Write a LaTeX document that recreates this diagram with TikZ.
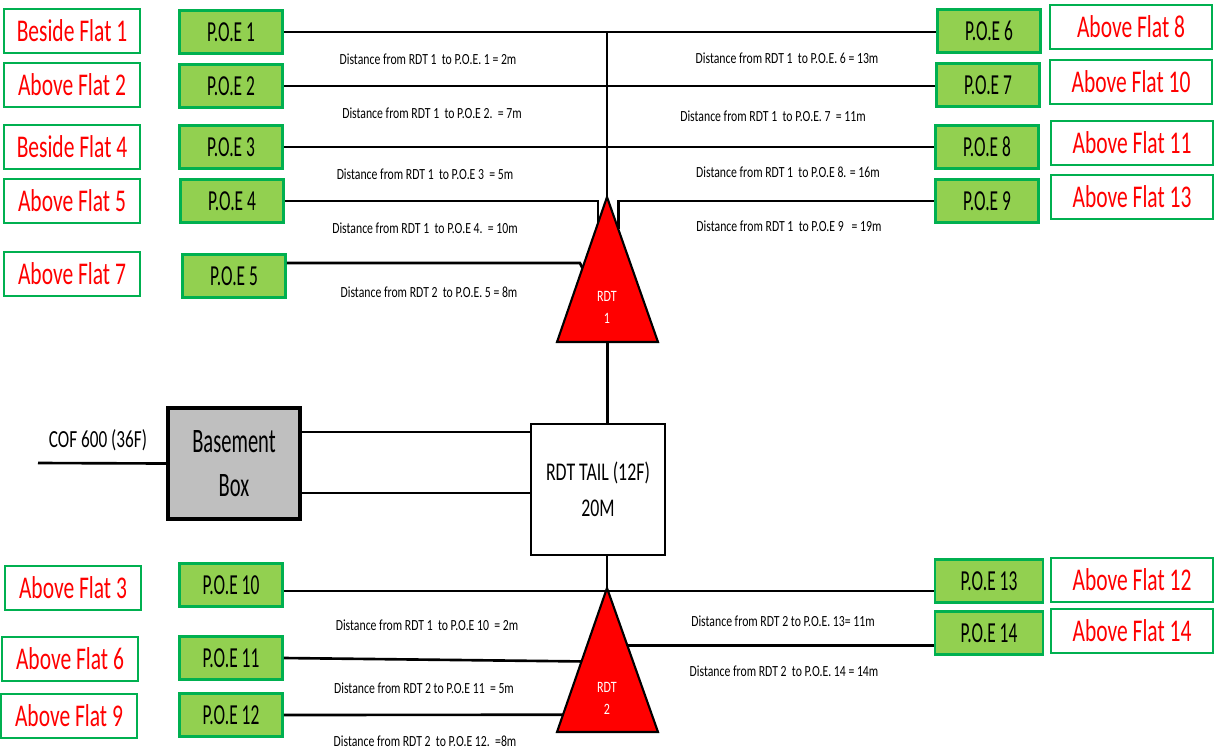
\documentclass[tikz,border=0pt]{standalone}
\usepackage{fontspec}
\setmainfont{Carlito}
\newfontfamily\flatfont[FakeStretch=0.68]{Carlito}
\newfontfamily\bigfont[FakeStretch=0.6]{Carlito}
\newfontfamily\midfont[FakeStretch=0.7]{Carlito}
\newfontfamily\smallfont[FakeStretch=0.76]{Carlito}
\usepackage{tikz}
\usetikzlibrary{calc}
\definecolor{flatgreen}{RGB}{0,176,80}
\definecolor{poegreen}{RGB}{146,208,80}
\definecolor{flatred}{RGB}{255,0,0}
\definecolor{boxgrey}{RGB}{191,191,191}
\tikzset{flat/.style={rectangle, draw=flatgreen, line width=1.6pt, fill=white, text=flatred, minimum width=2.72cm, minimum height=0.88cm, inner sep=0pt, font=\flatfont\fontsize{18}{20}\selectfont}, poe/.style={rectangle, draw=flatgreen, line width=1.6pt, fill=poegreen, minimum width=2.06cm, minimum height=0.86cm, inner sep=0pt, font=\bigfont\fontsize{16.5}{18}\selectfont}, cable/.style={line width=1.5pt, draw=black}, dist/.style={inner sep=0pt, font=\smallfont\fontsize{8.8}{10}\selectfont}, rdt/.style={draw=black, line width=1.2pt, fill=flatred}, rdtlbl/.style={text=white, align=center, inner sep=0pt, font=\smallfont\fontsize{9}{12.5}\selectfont}}

\begin{document}
\begin{tikzpicture}[x=0.02cm, y=-0.02cm]
\useasboundingbox (0,0) rectangle (1214,755);
\node[flat] (fl1) at (72,31) {Beside Flat 1};
\node[flat] (fl2) at (72,85) {Above Flat 2};
\node[flat] (fl4) at (72,147) {Beside Flat 4};
\node[flat] (fl5) at (72,201) {Above Flat 5};
\node[flat] (fl7) at (72,274) {Above Flat 7};
\node[flat] (fl3) at (73,588) {Above Flat 3};
\node[flat] (fl6) at (70,659) {Above Flat 6};
\node[flat] (fl9) at (69,716) {Above Flat 9};
\node[flat, minimum width=3.24cm] (fl8) at (1131,27) {Above Flat 8};
\node[flat, minimum width=3.24cm] (fl10) at (1131,82) {Above Flat 10};
\node[flat, minimum width=3.24cm] (fl11) at (1132,143) {Above Flat 11};
\node[flat, minimum width=3.24cm] (fl13) at (1132,197) {Above Flat 13};
\node[flat, minimum width=3.24cm] (fl12) at (1132,580) {Above Flat 12};
\node[flat, minimum width=3.24cm] (fl14) at (1132,631) {Above Flat 14};
\node[poe] (poe1) at (231,32) {P.O.E 1};
\node[poe] (poe2) at (231,86) {P.O.E 2};
\node[poe] (poe3) at (231,147) {P.O.E 3};
\node[poe] (poe4) at (232,201) {P.O.E 4};
\node[poe] (poe5) at (234,276) {P.O.E 5};
\node[poe] (poe10) at (231,585) {P.O.E 10};
\node[poe] (poe11) at (231,658) {P.O.E 11};
\node[poe] (poe12) at (231,715) {P.O.E 12};
\node[poe] (poe6) at (989,31) {P.O.E 6};
\node[poe] (poe7) at (988,85) {P.O.E 7};
\node[poe] (poe8) at (987,147) {P.O.E 8};
\node[poe] (poe9) at (987,201) {P.O.E 9};
\node[poe, minimum width=2.16cm] (poe13) at (989,581) {P.O.E 13};
\node[poe, minimum width=2.16cm] (poe14) at (989,633) {P.O.E 14};
\node[rectangle, draw=black, line width=1.8pt, fill=boxgrey, minimum width=2.64cm, minimum height=2.22cm, align=center, font=\bigfont\fontsize{19.5}{25}\selectfont] (base) at (234,463.5) {Basement\\Box};
\node[rectangle, draw=black, line width=0.9pt, fill=white, minimum width=2.68cm, minimum height=2.62cm, align=center, font=\midfont\fontsize{14.5}{20.5}\selectfont] (tail) at (598,489.5) {RDT TAIL (12F)\\20M};
\node[font=\midfont\fontsize{14}{16}\selectfont, inner sep=0pt] (coflbl) at (98,440) {COF 600 (36F)};
\coordinate (cof) at (38,463);
\coordinate (r1apex) at (607,197);
\coordinate (r1left) at (557,342);
\coordinate (r1right) at (658,342);
\coordinate (r1base) at ($(r1left)!0.5!(r1right)$);
\coordinate (r2apex) at (607,588);
\coordinate (r2left) at (557,732);
\coordinate (r2right) at (658,732);
\coordinate (bus2) at (607,591);
\coordinate (r1l4) at ($(r1apex)!0.18!(r1left)$);
\coordinate (r1r9) at ($(r1apex)!0.22!(r1right)$);
\coordinate (r1l5) at ($(r1apex)!0.49!(r1left)$);
\coordinate (r2l11) at ($(r2apex)!0.51!(r2left)$);
\coordinate (r2l12) at ($(r2apex)!0.88!(r2left)$);
\coordinate (r2r14) at ($(r2apex)!0.4!(r2right)$);
\draw[cable] (poe1.east) -- (poe1.east -| poe6.west);
\draw[cable] (poe2.east) -- (poe2.east -| poe7.west);
\draw[cable] (poe3.east) -- (poe3.east -| poe8.west);
\draw[cable] (poe4.east) -- (poe4.east -| r1l4) -- (r1l4);
\draw[cable] (poe9.west) -- (poe9.west -| r1r9) -- (r1r9);
\draw[cable] ([yshift=0.26cm]poe5.east) -- ++(293,0) -- (r1l5);
\draw[cable, line width=1.2pt] (r1apex) -- (r1apex |- poe1.east);
\draw[cable, line width=1.2pt] (r1base) -- (r1base |- tail.north);
\draw[cable, line width=1.2pt] (tail.south -| r2apex) -- (r2apex);
\draw[cable] (poe10.east |- bus2) -- (bus2) -- (poe13.west |- bus2);
\draw[cable] (poe11.east) -- (r2l11);
\draw[cable] (poe12.east) -- (r2l12);
\draw[cable] (r2r14) -- (r2r14 -| poe14.west);
\draw[cable] ([yshift=0.63cm]base.east) -- ([yshift=0.63cm]base.east -| tail.west);
\draw[cable] ([yshift=-0.59cm]base.east) -- ([yshift=-0.59cm]base.east -| tail.west);
\draw[cable] (cof) -- (base.west);
\draw[rdt] (r1apex) -- (r1left) -- (r1right) -- cycle;
\draw[rdt] (r2apex) -- (r2left) -- (r2right) -- cycle;
\node[rdtlbl] (rdt1) at (607,307) {RDT\\1};
\node[rdtlbl] (rdt2) at (607,698) {RDT\\2};
\foreach \i/\x/\y/\txt in {1/428/59/{Distance from RDT 1\ \ to P.O.E. 1 = 2m}, 2/432/113/{Distance from RDT 1\ \ to P.O.E 2.\ \ = 7m}, 3/425/174/{Distance from RDT 1\ \ to P.O.E 3\ \ = 5m}, 4/425/228/{Distance from RDT 1\ \ to P.O.E 4.\ \ = 10m}, 5/429/292/{Distance from RDT 2\ \ to P.O.E. 5 = 8m}, 6/787/58/{Distance from RDT 1\ \ to P.O.E. 6 = 13m}, 7/773/116/{Distance from RDT 1\ \ to P.O.E. 7\ \ = 11m}, 8/788/172/{Distance from RDT 1\ \ to P.O.E 8. = 16m}, 9/789/226/{Distance from RDT 1\ \ to P.O.E 9\ \ \ = 19m}, 10/427/625/{Distance from RDT 1\ \ to P.O.E 10\ \ = 2m}, 11/424/688/{Distance from RDT 2 to P.O.E 11\ \ = 5m}, 12/425/741/{Distance from RDT 2\ \ to P.O.E 12.\ \ =8m}, 13/783/621/{Distance from RDT 2 to P.O.E. 13= 11m}, 14/784/671/{Distance from RDT 2\ \ to P.O.E. 14 = 14m}} {\node[dist] (d\i) at (\x,\y) {\txt};}
\end{tikzpicture}
\end{document}
